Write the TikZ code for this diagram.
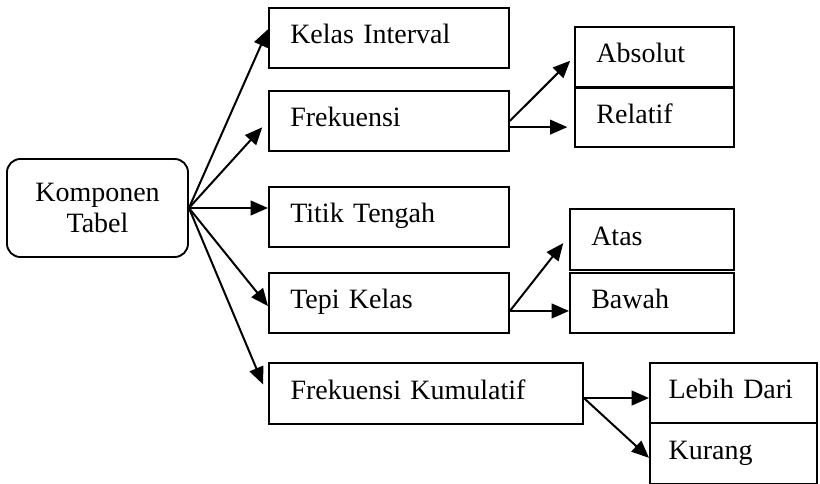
\documentclass[tikz,border=0pt]{standalone}
\usepackage{fontspec}
\setmainfont{Liberation Serif}
\usetikzlibrary{arrows.meta,calc}
\begin{document}
\begin{tikzpicture}[x=0.75pt,y=-0.75pt,
  every node/.style={font=\fontsize{21}{23.5}\selectfont},
  box/.style={draw, line width=1.4pt, rectangle, anchor=north west,
    inner xsep=16pt, inner ysep=0pt, minimum height=45pt,
    text height=13.5pt, text depth=4.5pt, align=left},
  wbox/.style={box, text width=148pt, minimum width=180pt},
  nbox/.style={box, inner xsep=14pt, text width=97.25pt, minimum width=125.25pt},
  conn/.style={line width=1.5pt, -{Triangle[length=13pt,width=11pt]}}]
\useasboundingbox (0,0) rectangle (820,484);
% root
\node[draw, line width=1.4pt, rounded corners=10pt, minimum width=135.75pt,
  minimum height=73.5pt, align=center, inner sep=0pt] (kt) at (97.5,208) {Komponen\\Tabel};
% level 1
\node[wbox] (ki) at (268,7) {Kelas Interval};
\node[wbox] (fr) at (268,90) {Frekuensi};
\node[wbox] (tt) at (268,186) {Titik Tengah};
\node[wbox] (tk) at (268,272) {Tepi Kelas};
\node[box, text width=203pt, minimum width=235.5pt, minimum height=46pt] (fk) at (268,362) {Frekuensi Kumulatif};
% level 2
\node[box, text width=87pt, minimum width=119.25pt] (ab) at (574,26) {Absolut};
\node[box, text width=87pt, minimum width=119.25pt, minimum height=44.5pt] (re) at (574,87) {Relatif};
\node[box, text width=91pt, minimum width=123pt, minimum height=46pt] (at) at (569,208) {Atas};
\node[box, text width=91pt, minimum width=123pt] (ba) at (569,272) {Bawah};
\node[nbox] (ld) at (649,362) {Lebih Dari};
\node[nbox, minimum height=45.75pt] (ku) at (649,422) {Kurang};
% connectors from root
\draw[conn] (kt.east) -- ($(ki.north west)!0.36!(ki.south west)$);
\draw[conn, shorten >=6.5pt] (kt.east) -- (fr.west);
\draw[conn] (kt.east) -- (kt.east -| tt.west);
\draw[conn] (kt.east) -- ($(tk.north west)!0.55!(tk.south west)$);
\draw[conn, shorten >=9.5pt] (kt.east) -- ($(fk.north west)!0.54!(fk.south west)$);
% Frekuensi
\coordinate (frs) at ($(fr.north east)!0.6!(fr.south east)$);
\draw[conn, shorten >=4pt] (fr.east) -- (ab.west);
\draw[conn, shorten >=5pt] (frs) -- (frs -| re.west);
% Tepi Kelas
\coordinate (tks) at ($(tk.north east)!0.63!(tk.south east)$);
\draw[conn, shorten >=7pt] (tks) -- ($(at.north west)!0.44!(at.south west)$);
\draw[conn] (tks) -- (tks -| ba.west);
% Frekuensi Kumulatif
\coordinate (fks) at ($(fk.north east)!0.57!(fk.south east)$);
\draw[conn] (fks) -- (fks -| ld.west);
\draw[conn] (fks) -- ($(ku.north west)!0.57!(ku.south west)$);
\end{tikzpicture}
\end{document}
